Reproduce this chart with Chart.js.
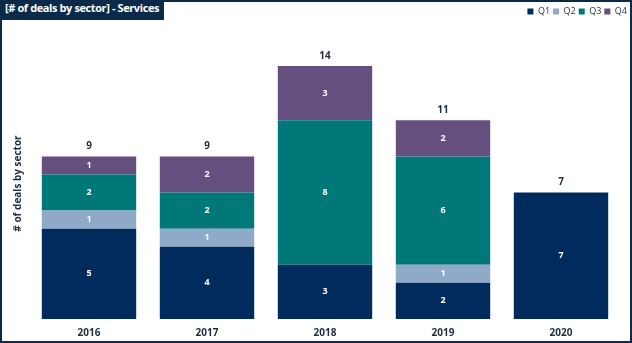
<!DOCTYPE html>
<html>
<head>
<meta charset="utf-8">
<script src="https://cdn.jsdelivr.net/npm/chart.js@4"></script>
<style>
  html, body { margin: 0; padding: 0; background: #fff; }
  #wrap { position: relative; width: 632px; height: 343px; box-sizing: border-box; border: 2px solid #0b2a4a; }
  #title { position: absolute; left: -2px; top: -2px; height: 20px; line-height: 20px; padding: 0 5px;
           background: #0b2a4a; color: #fff; font: bold 11px "Open Sans", sans-serif; letter-spacing: -0.4px; z-index: 2; }
  canvas { display: block; }
</style>
</head>
<body>
<div id="wrap">
  <div id="title">[# of deals by sector] - Services</div>
  <canvas id="chart" width="628" height="339"></canvas>
</div>
<script>
const years = ["2016", "2017", "2018", "2019", "2020"];
const q1 = [5, 4, 3, 2, 7];
const q2 = [1, 1, 0, 1, 0];
const q3 = [2, 2, 8, 6, 0];
const q4 = [1, 2, 3, 2, 0];

const colors = ["#002b5c", "#8fa9c8", "#00787a", "#654f7e"];
const txtColor = "#1f2d3d";
const font = '"Open Sans", sans-serif';

// extra room under the legend, and push it to the right edge
const legendMargin = {
    id: "legendMargin",
    beforeInit(chart) {
        const fit = chart.legend.fit;
        chart.legend.fit = function () {
            fit.bind(chart.legend)();
            this.height += 24;
        };
    },
    afterLayout(chart) {
        chart.legend.right += 10;
        chart.legend.top += 2;
    }
};

// white numbers inside each block + totals above the stacks
const labelPlugin = {
    id: "labels",
    afterDatasetsDraw(chart) {
        let ctx = chart.ctx;
        ctx.save();
        ctx.textAlign = "center";
        ctx.textBaseline = "middle";
        ctx.font = "bold 9px " + font;
        let tops = [];
        chart.data.datasets.forEach(function (ds, i) {
            let meta = chart.getDatasetMeta(i);
            meta.data.forEach(function (bar, j) {
                let v = ds.data[j];
                if (!v) return;
                ctx.fillStyle = "#fff";
                ctx.fillText(v, bar.x, (bar.y + bar.base) / 2);
                if (tops[j] === undefined || bar.y < tops[j].y) tops[j] = { x: bar.x, y: bar.y };
            });
        });
        ctx.fillStyle = txtColor;
        ctx.font = "bold 10px " + font;
        tops.forEach(function (t, j) {
            let total = q1[j] + q2[j] + q3[j] + q4[j];
            ctx.fillText(total, t.x, t.y - 10);
        });
        ctx.restore();
    }
};

new Chart(document.getElementById("chart"), {
    type: "bar",
    data: {
        labels: years,
        datasets: [
            { label: "Q1", data: q1, backgroundColor: colors[0] },
            { label: "Q2", data: q2, backgroundColor: colors[1] },
            { label: "Q3", data: q3, backgroundColor: colors[2] },
            { label: "Q4", data: q4, backgroundColor: colors[3] }
        ]
    },
    options: {
        responsive: false,
        animation: false,
        barPercentage: 0.8,
        categoryPercentage: 1,
        layout: { padding: { left: 4, right: 10, top: 0, bottom: -6 } },
        plugins: {
            legend: {
                position: "top",
                align: "end",
                labels: { boxWidth: 6, boxHeight: 6, padding: 3, color: txtColor, font: { family: font, size: 9 } }
            },
            tooltip: { enabled: false }
        },
        scales: {
            x: {
                stacked: true,
                grid: { display: false, drawTicks: false },
                border: { display: false },
                ticks: { color: txtColor, font: { family: font, size: 10, weight: "bold" }, padding: 8 }
            },
            y: {
                stacked: true,
                min: 0,
                max: 15,
                grid: { display: false, drawTicks: false },
                border: { display: false },
                ticks: { display: false },
                title: { display: true, text: "# of deals by sector", color: txtColor, font: { family: font, size: 10, weight: "bold" }, padding: 6 }
            }
        }
    },
    plugins: [legendMargin, labelPlugin]
});
</script>
</body>
</html>
